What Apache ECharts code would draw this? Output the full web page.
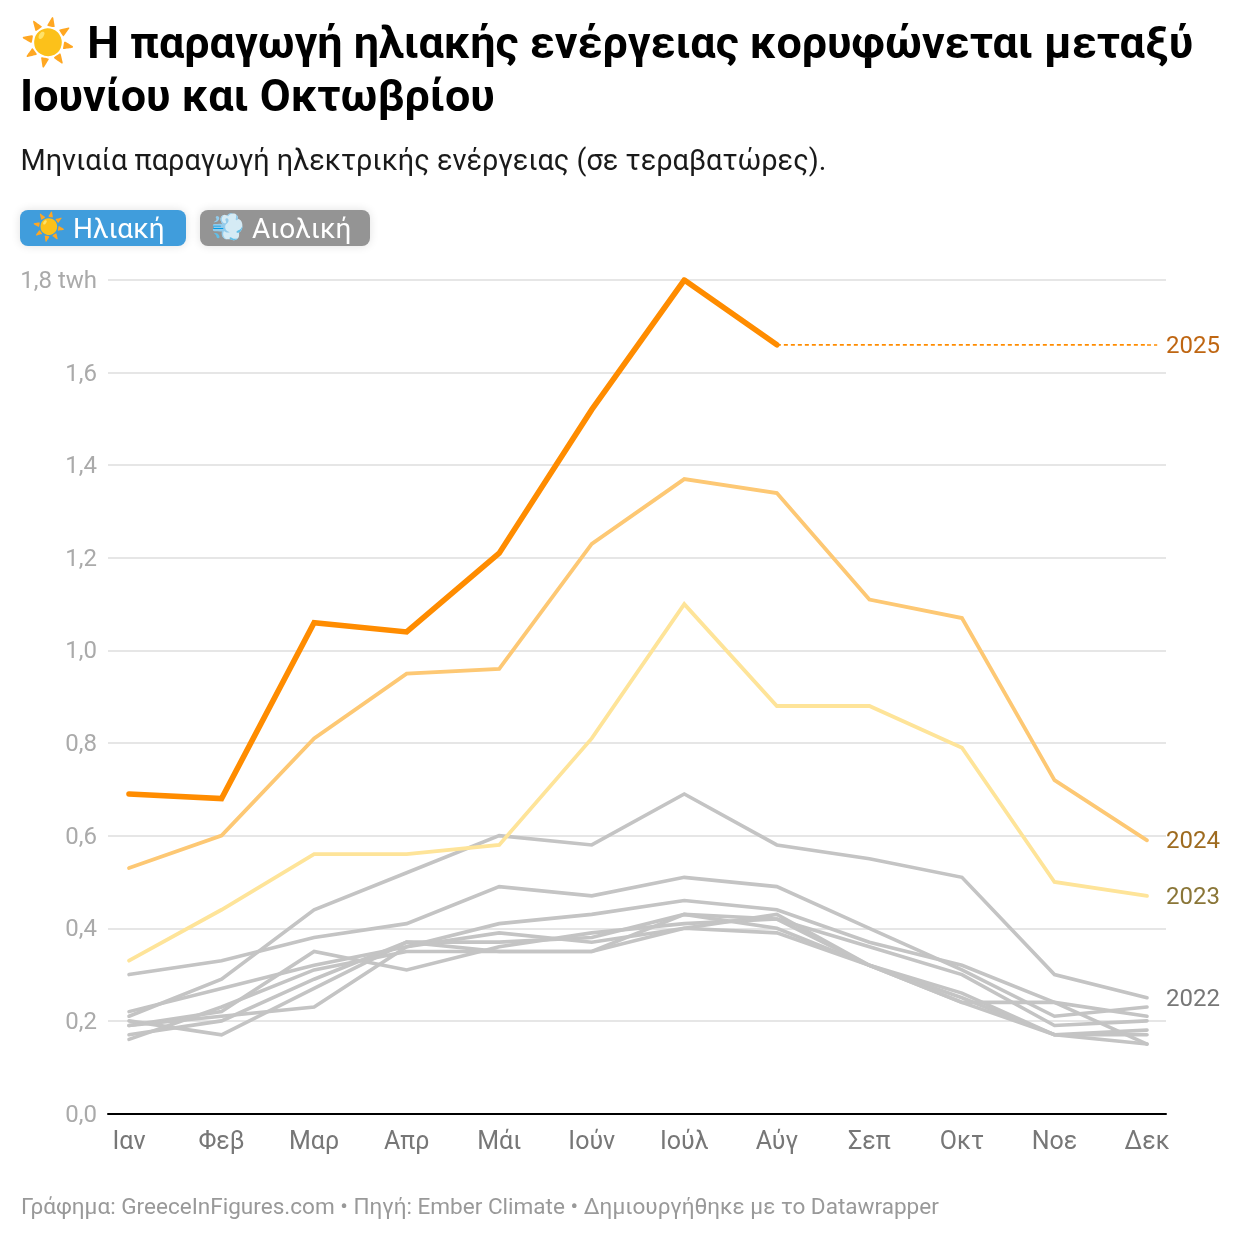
<!DOCTYPE html>
<html>
<head>
<meta charset="utf-8">
<style>
html, body { margin: 0; padding: 0; background: #fff; }
#chart { width: 1240px; height: 1240px; }
</style>
<script src="https://cdn.jsdelivr.net/npm/echarts@6/dist/echarts.min.js"></script>
</head>
<body>
<div id="chart"></div>
<script>
const months = ['Ιαν', 'Φεβ', 'Μαρ', 'Απρ', 'Μάι', 'Ιούν', 'Ιούλ', 'Αύγ', 'Σεπ', 'Οκτ', 'Νοε', 'Δεκ'];

const y2025 = [0.69, 0.68, 1.06, 1.04, 1.21, 1.52, 1.80, 1.66];
const y2025Rest = [1.66, 1.66, 1.66, 1.66, 1.66];
const y2024 = [0.53, 0.60, 0.81, 0.95, 0.96, 1.23, 1.37, 1.34, 1.11, 1.07, 0.72, 0.59];
const y2023 = [0.33, 0.44, 0.56, 0.56, 0.58, 0.81, 1.10, 0.88, 0.88, 0.79, 0.50, 0.47];
const y2022 = [0.21, 0.29, 0.44, 0.52, 0.60, 0.58, 0.69, 0.58, 0.55, 0.51, 0.30, 0.25];

const older1 = [0.30, 0.33, 0.38, 0.41, 0.49, 0.47, 0.51, 0.49, 0.40, 0.31, 0.21, 0.23];
const older2 = [0.22, 0.27, 0.32, 0.36, 0.41, 0.43, 0.46, 0.44, 0.37, 0.32, 0.24, 0.15];
const older3 = [0.19, 0.22, 0.35, 0.31, 0.36, 0.39, 0.41, 0.42, 0.36, 0.30, 0.19, 0.20];
const older4 = [0.20, 0.17, 0.27, 0.37, 0.37, 0.38, 0.43, 0.40, 0.32, 0.26, 0.17, 0.15];
const older5 = [0.19, 0.21, 0.23, 0.36, 0.39, 0.37, 0.40, 0.43, 0.32, 0.25, 0.17, 0.18];
const older6 = [0.17, 0.20, 0.29, 0.37, 0.35, 0.35, 0.40, 0.39, 0.32, 0.24, 0.17, 0.17];
const older7 = [0.16, 0.23, 0.31, 0.35, 0.35, 0.35, 0.43, 0.42, 0.32, 0.24, 0.24, 0.21];

const FONT = 'Roboto, "Noto Sans", sans-serif';

function toPoints(values, start) {
    return values.map((v, i) => [i + (start || 0), v]);
}

function endLabel(text, color) {
    return {
        show: true,
        formatter: '{v|' + text + '}',
        distance: 19,
        rich: {
            v: { color: color, fontFamily: FONT, fontSize: 24, padding: [4, 0, 0, 0] },
        },
    };
}

function lineSeries(name, values, color, width, labelColor) {
    return {
        name: name,
        type: 'line',
        data: toPoints(values),
        symbol: 'none',
        silent: true,
        lineStyle: { color: color, width: width, cap: 'round', join: 'miter' },
        endLabel: labelColor ? endLabel(name, labelColor) : { show: false },
    };
}

const series = [
    lineSeries('o1', older1, '#c4c4c4', 3.6),
    lineSeries('o2', older2, '#c4c4c4', 3.6),
    lineSeries('o3', older3, '#c4c4c4', 3.6),
    lineSeries('o4', older4, '#c4c4c4', 3.6),
    lineSeries('o5', older5, '#c4c4c4', 3.6),
    lineSeries('o6', older6, '#c4c4c4', 3.6),
    lineSeries('o7', older7, '#c4c4c4', 3.6),
    lineSeries('2022', y2022, '#c4c4c4', 3.6, '#777777'),
    lineSeries('2023', y2023, '#fee499', 3.8, '#8a7638'),
    lineSeries('2024', y2024, '#fdc874', 3.8, '#9e6b1f'),
    lineSeries('2025b', y2025, '#ff8c00', 5.6),
    {
        name: '2025',
        type: 'line',
        data: toPoints(y2025Rest, 7),
        symbol: 'none',
        silent: true,
        lineStyle: { color: '#ff8c00', width: 1.6, type: [4, 3] },
        endLabel: endLabel('2025', '#bf6612'),
        // the dotted leader runs a little past December towards the label
        markLine: {
            silent: true,
            symbol: 'none',
            label: { show: false },
            lineStyle: { color: '#ff8c00', width: 1.6, type: [4, 3] },
            data: [[{ coord: [11, 1.66] }, { coord: [11.11, 1.66] }]],
        },
    },
];

const chart = echarts.init(document.getElementById('chart'), null, { renderer: 'canvas' });

chart.setOption({
    animation: false,
    backgroundColor: '#ffffff',
    title: [
        {
            text: '☀️ Η παραγωγή ηλιακής ενέργειας κορυφώνεται μεταξύ\nΙουνίου και Οκτωβρίου',
            left: 15,
            top: 16,
            textStyle: { fontFamily: FONT, fontSize: 44.9, fontWeight: 700, color: '#000000', lineHeight: 52.5 },
        },
        {
            text: 'Μηνιαία παραγωγή ηλεκτρικής ενέργειας (σε τεραβατώρες).',
            left: 15.5,
            top: 143,
            textStyle: { fontFamily: FONT, fontSize: 28.9, fontWeight: 400, color: '#1a1a1a' },
        },
        {
            text: 'Γράφημα: GreeceInFigures.com • Πηγή: Ember Climate • Δημιουργήθηκε με το Datawrapper',
            left: 16,
            top: 1192,
            textStyle: { fontFamily: FONT, fontSize: 22.55, fontWeight: 400, color: '#999999' },
        },
    ],
    grid: { left: 108, right: 74, top: 280, bottom: 126.5 },
    xAxis: {
        type: 'value',
        min: -0.227,
        max: 11.205,
        splitLine: { show: false },
        axisTick: { show: false },
        axisLine: { show: true, onZero: true, lineStyle: { color: '#000000', width: 2 } },
        axisLabel: {
            customValues: months.map((m, i) => i),
            formatter: (v) => months[v],
            color: '#777777',
            fontFamily: FONT,
            fontSize: 25,
            margin: 17,
        },
    },
    yAxis: {
        type: 'value',
        min: 0,
        max: 1.8,
        interval: 0.2,
        axisLine: { show: false },
        axisTick: { show: false },
        splitLine: { lineStyle: { color: '#e6e6e6', width: 2 } },
        axisLabel: {
            formatter: (v) => {
                const s = v.toFixed(1).replace('.', ',');
                return '{v|' + (v >= 1.79 ? s + ' twh' : s) + '}';
            },
            margin: 11,
            rich: {
                v: { color: '#aaaaaa', fontFamily: FONT, fontSize: 24, padding: [4, 0, 0, 0] },
            },
        },
    },
    graphic: [
        {
            type: 'group',
            left: 20,
            top: 210,
            children: [
                { type: 'rect', shape: { x: 0, y: 0, width: 166, height: 36, r: 8 }, style: { fill: '#409ddc', shadowBlur: 10, shadowColor: 'rgba(0,0,0,0.12)' } },
                { type: 'text', style: { x: 12, y: 19, text: '☀️', verticalAlign: 'middle', font: '27px ' + FONT } },
                { type: 'text', style: { x: 53, y: 21, text: 'Ηλιακή', fill: '#ffffff', verticalAlign: 'middle', font: '28px ' + FONT } },
            ],
        },
        {
            type: 'group',
            left: 200,
            top: 210,
            children: [
                { type: 'rect', shape: { x: 0, y: 0, width: 170, height: 36, r: 8 }, style: { fill: '#949494', shadowBlur: 10, shadowColor: 'rgba(0,0,0,0.12)' } },
                { type: 'text', style: { x: 11, y: 19, text: '💨', verticalAlign: 'middle', font: '27px ' + FONT } },
                { type: 'text', style: { x: 52, y: 21, text: 'Αιολική', fill: '#ffffff', verticalAlign: 'middle', font: '28px ' + FONT } },
            ],
        },
    ],
    series: series,
});
</script>
</body>
</html>
